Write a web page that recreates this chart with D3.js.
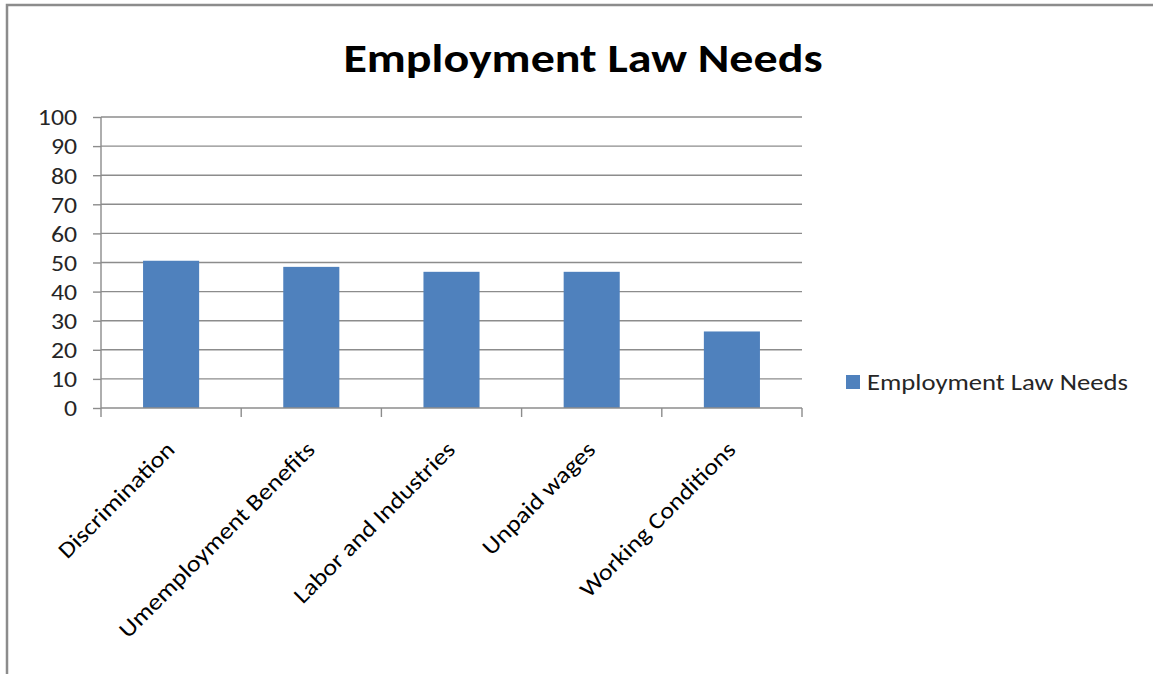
<!DOCTYPE html>
<html><head><meta charset="utf-8">
<script src="https://cdn.jsdelivr.net/npm/d3@7"></script>
<style>body{margin:0;background:#fff;}svg{display:block;}</style>
</head><body>
<script>
const categories = ["Discrimination","Umemployment Benefits","Labor and Industries","Unpaid wages","Working Conditions"];
const values = [50.6, 48.5, 46.8, 46.8, 26.3];
const yTicks = [0,10,20,30,40,50,60,70,80,90,100];
const seriesName = "Employment Law Needs";
const title = "Employment Law Needs";

const W = 1153, H = 674;
const font = "Carlito, Calibri, Lato, 'Open Sans', sans-serif";
const svg = d3.select("body").append("svg").attr("width", W).attr("height", H);
svg.append("rect").attr("width", W).attr("height", H).attr("fill", "#fff");

function stretch(sel, k) {
  sel.each(function() {
    const len = this.getComputedTextLength();
    d3.select(this).attr("textLength", len * k).attr("lengthAdjust", "spacingAndGlyphs");
  });
}

// frame
svg.append("path").attr("d", `M7,${H} L7,5 L${W},5`).attr("fill","none").attr("stroke","#8c8c8c").attr("stroke-width",2.5);

const pLeft = 101, pRight = 802, pTop = 117, pBottom = 408;
const x = d3.scaleBand().domain(categories).range([pLeft, pRight]).paddingInner(0.6).paddingOuter(0.3);
const xb = d3.scaleBand().domain(categories).range([pLeft, pRight]);
const y = d3.scaleLinear().domain([0,100]).range([pBottom, pTop]);

// gridlines
svg.append("g").selectAll("line").data(yTicks.filter(d=>d>0)).join("line")
  .attr("x1", pLeft).attr("x2", pRight).attr("y1", d=>y(d)).attr("y2", d=>y(d))
  .attr("stroke","#8c8c8c").attr("stroke-width",1.4);

// bars
svg.append("g").selectAll("rect").data(values).join("rect")
  .attr("x",(d,i)=>x(categories[i])).attr("width",x.bandwidth())
  .attr("y",d=>y(d)).attr("height",d=>y(0)-y(d))
  .attr("fill","#4f81bd");

// y axis
const ya = svg.append("g").attr("transform",`translate(${pLeft},0)`)
  .call(d3.axisLeft(y).tickValues(yTicks).tickSize(8).tickPadding(16));
ya.select(".domain").attr("stroke","#8c8c8c").attr("stroke-width",1.4).attr("d",`M-0,${pBottom}V${pTop}`);
ya.selectAll(".tick line").attr("stroke","#8c8c8c").attr("stroke-width",1.4);
ya.selectAll("text").attr("font-family",font).attr("font-size",23).attr("fill","#262626").attr("dy","0.34em")
  .attr("text-anchor","end").call(stretch, 1.12);

// x axis
const xa = svg.append("g").attr("transform",`translate(0,${pBottom})`);
xa.append("line").attr("x1",pLeft).attr("x2",pRight).attr("stroke","#8c8c8c").attr("stroke-width",1.4);
const edges = categories.map(c=>xb(c)).concat([pRight]);
xa.selectAll(".tk").data(edges).join("line").attr("class","tk")
  .attr("x1",d=>d).attr("x2",d=>d).attr("y1",0).attr("y2",9)
  .attr("stroke","#8c8c8c").attr("stroke-width",1.4);
xa.selectAll("text").data(categories).join("text")
  .attr("transform",d=>`translate(${xb(d)+xb.bandwidth()/2+5},${43}) rotate(-45)`)
  .attr("text-anchor","end")
  .attr("font-family",font).attr("font-size",23).attr("fill","#000")
  .text(d=>d).call(stretch, 1.14);

// title
svg.append("text").attr("x",583).attr("y",72).attr("text-anchor","middle")
  .attr("font-family",font).attr("font-weight","bold").attr("font-size",41).attr("fill","#000")
  .text(title).call(stretch, 1.17);

// legend
svg.append("rect").attr("x",846).attr("y",375).attr("width",14).attr("height",14).attr("fill","#4f81bd");
svg.append("text").attr("x",867).attr("y",390).attr("font-family",font).attr("font-size",23).attr("fill","#262626").text(seriesName).call(stretch, 1.16);
</script>
</body></html>
